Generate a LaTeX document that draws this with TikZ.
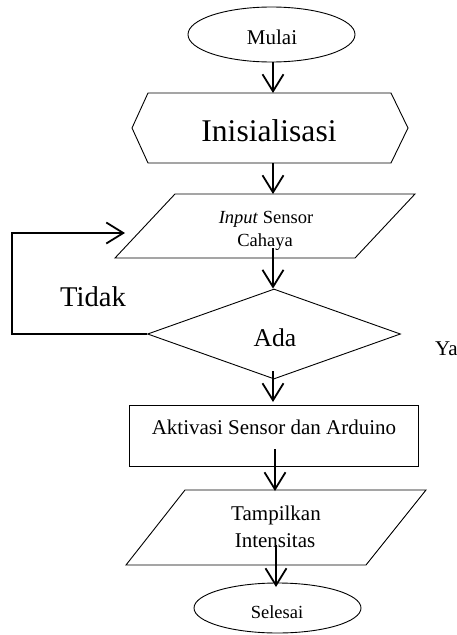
\documentclass[tikz,border=0pt]{standalone}
\usepackage{fontspec}
\setmainfont{Liberation Serif}
\usetikzlibrary{arrows.meta,shapes.geometric}
\begin{document}
\begin{tikzpicture}[x=1pt,y=-1pt,
  shp/.style={draw=black, line width=0.9pt},
  conn/.style={line width=1.8pt, -{Straight Barb[length=17pt,width=21pt]}},
  lbl/.style={anchor=base, inner sep=0pt},
  fa/.style={font=\fontsize{21}{25}\selectfont},
  fb/.style={font=\fontsize{18.5}{22}\selectfont},
]
\useasboundingbox (0,0) rectangle (457,635);
% Mulai
\node[shp, ellipse, minimum width=167pt, minimum height=55pt, inner sep=0pt] (mulai) at (271.5,34.5) {};
\node[lbl, fa] (tmulai) at (272,44) {Mulai};
% Inisialisasi hexagon
\draw[shp] (132,128) -- (148,93) -- (391,93) -- (408,128) -- (391,163) -- (148,163) -- cycle;
\coordinate (iniT) at (273,93);
\coordinate (iniB) at (273,163);
\node[lbl, font=\fontsize{31.6}{36}\selectfont] (tini) at (269,141) {Inisialisasi};
% Input parallelogram
\draw[shp] (175,194) -- (415,194) -- (355,258) -- (115,258) -- cycle;
\coordinate (inT) at (273,194);
\coordinate (inS) at (273,248);
\node[lbl, fb] (tin1) at (266,223) {\textit{Input} Sensor};
\node[lbl, fb] (tin2) at (265,246) {Cahaya};
% Ada diamond
\node[shp, diamond, minimum width=253pt, minimum height=90pt, inner sep=0pt] (ada) at (274,334) {};
\coordinate (adaS) at (273,371);
\node[lbl, font=\fontsize{25.6}{30}\selectfont] (tada) at (275,346) {Ada};
% Aktivasi rectangle
\node[shp, rectangle, minimum width=289pt, minimum height=61pt, inner sep=0pt] (akt) at (273.5,435.5) {};
\coordinate (aktT) at (273,402);
\coordinate (aktS) at (275,449);
\node[lbl, fa] (takt) at (274,434) {Aktivasi Sensor dan Arduino};
% Tampilkan parallelogram
\draw[shp] (185,490) -- (426,490) -- (366,565) -- (126,565) -- cycle;
\coordinate (tpT) at (275,491);
\coordinate (tpS) at (276,545);
\node[lbl, fa] (ttp1) at (276,520) {Tampilkan};
\node[lbl, fa] (ttp2) at (275,547) {Intensitas};
% Selesai
\node[shp, ellipse, minimum width=167pt, minimum height=50pt, inner sep=0pt] (sel) at (277.5,608) {};
\coordinate (selT) at (276,587);
\node[lbl, fb] (tsel) at (277,618) {Selesai};
% connectors
\draw[conn] (mulai.south -| iniT) -- (iniT);
\draw[conn] (iniB) -- (inT);
\draw[conn] (inS) -- (ada.north -| inS);
\draw[conn] (adaS) -- (aktT);
\draw[conn] (aktS) -- (tpT -| aktS);
\draw[conn] (tpS) -- (selT);
\coordinate (loopC) at (12,233);
\coordinate (loopE) at (125,233);
\draw[conn] (ada.west) -| (loopC) -- (loopE);
% labels
\node[lbl, font=\fontsize{28.6}{33}\selectfont] (ttidak) at (93,306) {Tidak};
\node[lbl, fa, anchor=base west] (tya) at (435,355) {Ya};
\end{tikzpicture}
\end{document}
